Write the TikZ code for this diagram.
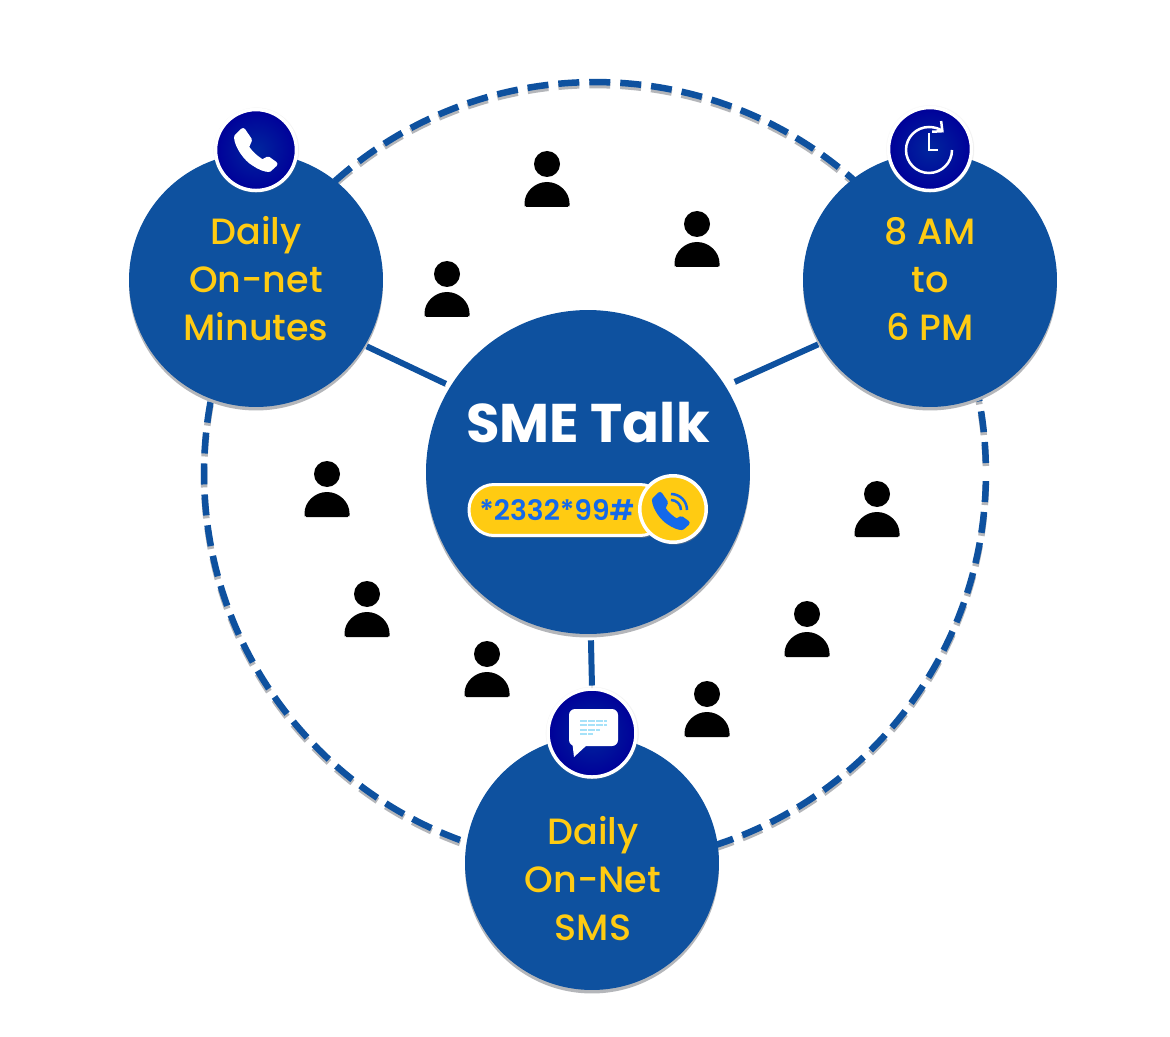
\documentclass[tikz,border=0pt]{standalone}
\usepackage{fontspec}
\setmainfont{Poppins}
\newfontfamily\discfont{Poppins Medium}
\newfontfamily\dialfont{Poppins SemiBold}
\usetikzlibrary{arrows,arrows.meta,shapes,shadows}
\definecolor{discblue}{HTML}{0E519F}
\definecolor{lightgold}{HTML}{FFCB12}
\definecolor{shadowgrey}{HTML}{B4B6BA}
\definecolor{dialblue}{HTML}{1469EA}
\tikzset{
	ring/.style={circle,draw=discblue,line width=.13cm,dash pattern=on .42cm off .2cm,dash phase=.42cm,minimum size=15.64cm,
		preaction={draw=shadowgrey,transform canvas={yshift=-.06cm}}},
	disc/.style={circle,fill=discblue,minimum size=5.08cm,inner sep=0pt,
		copy shadow={shadow xshift=0pt,shadow yshift=-.07cm,fill=shadowgrey,draw=none}},
	hubdisc/.style={disc,minimum size=6.48cm},
	disctext/.style={align=center,text=lightgold,font=\discfont\fontsize{20.8}{27.3}\selectfont},
	badge/.style={circle,draw=white,line width=.07cm,inner color=blue!55!black!85!cyan,outer color=blue!60!black,
		minimum size=1.62cm,inner sep=0pt,
		circular drop shadow={shadow xshift=0pt,shadow yshift=0pt,shadow scale=1.07,opacity=.55}},
	link/.style={draw=discblue,line width=.12cm,shorten >=1pt,
		preaction={draw=shadowgrey,transform canvas={yshift=-.05cm}}},
	pics/person/.style={code={
		\fill[black] (0,-43) circle (13);
		\fill[black,rounded corners=1pt] (-22.5,0) -- (-22.5,-2) arc (180:360:22.5 and 23) -- (22.5,0) -- cycle;
	}},
	pics/phone/.style={code={
		\fill[#1,draw=#1,line width=.1cm,line join=round] (-19.5,-13) .. controls (-19,-4) and (-10,9) .. (-2,13.5)
			.. controls (3,17) and (9,19.5) .. (13,19.5) -- (19,14) -- (12,9) -- (6.5,12)
			.. controls (1,9) and (-6,3) .. (-9.5,-3) -- (-6.5,-10) -- (-13,-19.5) -- cycle;
	}}
}
\begin{document}
\begin{tikzpicture}[x=.02cm,y=-.02cm,>=to]
	\useasboundingbox[fill=white] (0,0) rectangle (1170,1037);

	\node[ring] (orbit) at (595,473) {};

	\node[disc] (minutes) at (256,280) {};
	\node[disc] (hours) at (930,280) {};
	\node[disc] (sms) at (592,863) {};
	\node[hubdisc] (hub) at (588,472) {};

	\node[disctext] (minutestext) at (256,279) {Daily\\On-net\\Minutes};
	\node[disctext] (hourstext) at (930,279) {8 AM\\to\\6 PM};
	\node[disctext] (smstext) at (593,879) {Daily\\On-Net\\SMS};

	\node[badge] (minutesbadge) [above of=minutes, node distance=2.6cm] {};
	\node[badge, minimum size=1.66cm] (hoursbadge) [above of=hours, node distance=2.62cm] {};
	\node[badge, minimum size=1.76cm] (smsbadge) [above of=sms, node distance=2.6cm] {};

	\path
	(hub.148) edge[link, shorten <=.1cm] (minutes.-31)
	(hub.32) edge[link, shorten <=.2cm] (hours.210);
	\path (hub.-89) edge[link, shorten <=.12cm] (smsbadge.north);

	\node[text=white, font=\fontsize{31}{31}\selectfont\bfseries] (title) at (588,423) {SME Talk};
	\node[draw=white, fill=lightgold, line width=.06cm, rounded corners=.5cm, minimum width=3.92cm,
		minimum height=1.02cm, inner sep=0pt,
		drop shadow={shadow xshift=.03cm,shadow yshift=-.05cm,opacity=.5}] (dialbar) at (567,510) {};
	\node[text=dialblue, font=\dialfont\fontsize{16}{16}\selectfont] (dialcode) at (557,510) {*2332*99\#};
	\node[circle, draw=white, fill=lightgold, line width=.07cm, minimum size=1.33cm, inner sep=0pt,
		drop shadow={shadow xshift=.03cm,shadow yshift=-.05cm,opacity=.5}] (callbadge) at (673,509) {};

	\pic at (minutesbadge.center) {phone=white};
	\pic[scale=.85] at ([shift={(-.04cm,-.04cm)}]callbadge.center) {phone=dialblue};
	\draw[dialblue, line width=.05cm] (681,510) arc (0:-90:10);
	\draw[dialblue, line width=.05cm] (687,510) arc (0:-90:16);

	\draw[white, line width=.05cm, -{Straight Barb[length=.15cm,width=.28cm]}] (952,150) arc (0:310:23);
	\draw[white, line width=.05cm] (929,133) -- (929,150) -- (938,150);

	\fill[white, rounded corners=.12cm] (569,709) rectangle (618,746);
	\fill[white] (572,740) -- (574,757) -- (587,745) -- cycle;
	\foreach \linepos/\lineend in {721/607, 725/607, 730/600, 734/593}
		\draw[cyan!35!white, line width=.03cm, dash pattern=on .13cm off .03cm] (580,\linepos) -- (\lineend,\linepos);

	\foreach \headx/\heady in {547/207, 697/267, 447/317, 327/517, 367/637, 487/697, 707/737, 807/657, 877/537}
		\pic at (\headx,\heady) {person};
\end{tikzpicture}
\end{document}
